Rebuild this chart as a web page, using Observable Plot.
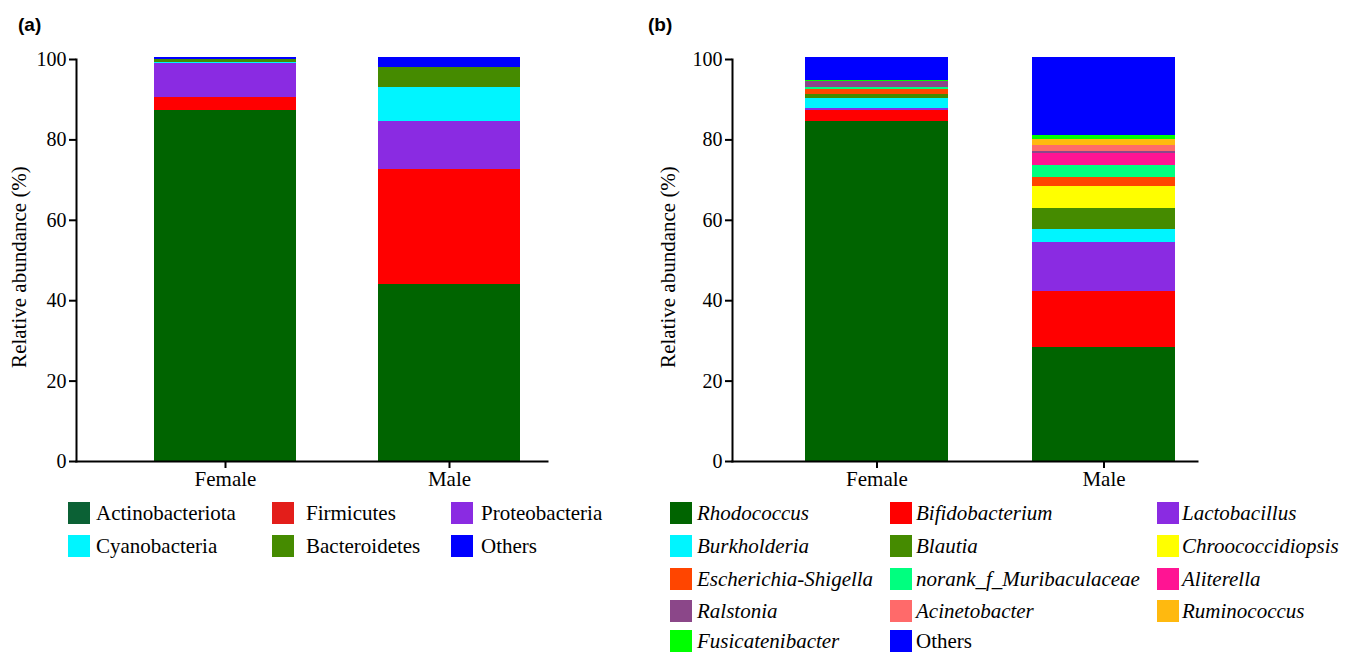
<!DOCTYPE html>
<html><head><meta charset="utf-8">
<script src="https://cdn.jsdelivr.net/npm/d3@7"></script>
<script src="https://cdn.jsdelivr.net/npm/@observablehq/plot@0.6"></script>
<style>
body{margin:0;background:#fff;}
#root{position:relative;width:1351px;height:654px;overflow:hidden;font-family:"Liberation Serif","Tinos","Times New Roman","Times",serif;color:#000;}
.plabel{position:absolute;font-family:"Liberation Sans",Arial,sans-serif;font-weight:bold;font-size:19px;line-height:1;}
.ytitle{position:absolute;font-size:21px;line-height:1;white-space:nowrap;transform:translate(-50%,-50%) rotate(-90deg);}
.sw{position:absolute;width:22px;height:22px;}
.lt{position:absolute;font-size:21px;white-space:nowrap;line-height:20px;}
.it{font-style:italic;}
</style></head><body><div id="root"></div>
<script>
// ---- data ----
const groups = ["Female", "Male"];
const yTicks = [0, 20, 40, 60, 80, 100];

const phyla = ["Actinobacteriota", "Firmicutes", "Proteobacteria", "Cyanobacteria", "Bacteroidetes", "Others"];
const phylaColors = ["#006400", "#FF0000", "#8A2BE2", "#00F5FF", "#458B00", "#0000FF"];
const phylaLegendColors = ["#0B6135", "#E31E1A", "#8A2BE2", "#00F5FF", "#458B00", "#0000FF"];
const phylaFemale = [87.4, 3.1, 8.6, 0.25, 0.75, 0.3];
const phylaMale = [44.1, 28.5, 11.9, 8.5, 5.0, 2.5];

const genera = ["Rhodococcus", "Bifidobacterium", "Lactobacillus", "Burkholderia", "Blautia",
  "Chroococcidiopsis", "Escherichia-Shigella", "norank_f_Muribaculaceae", "Aliterella",
  "Ralstonia", "Acinetobacter", "Ruminococcus", "Fusicatenibacter", "Others"];
const generaColors = ["#006400", "#FF0000", "#8A2BE2", "#00F5FF", "#458B00", "#FFFF00", "#FF4500",
  "#00FF7F", "#FF1493", "#8B4789", "#FF6A6A", "#FFB90F", "#00FF00", "#0000FF"];
const generaFemale = [84.7, 2.5, 0.5, 2.7, 1.0, 0, 1.2, 0.4, 0, 1.5, 0, 0, 0.4, 5.5];
const generaMale = [28.3, 14.0, 12.2, 3.3, 5.2, 5.5, 2.2, 3.0, 2.8, 0.7, 1.5, 1.5, 1.0, 19.2];

const FONT = "'Liberation Serif', Tinos, 'Times New Roman', Times, serif";
const root = document.getElementById("root");

function panel(cats, colors, female, male, o) {
  const data = [];
  groups.forEach((g, gi) => cats.forEach((c, i) =>
    data.push({group: g, taxon: c, value: (gi ? male : female)[i]})));
  const svg = Plot.plot({
    width: o.width, height: 495,
    marginLeft: o.ml, marginRight: o.width - o.axisEnd, marginTop: 59, marginBottom: 34,
    style: {fontFamily: FONT, fontSize: "20px", color: "#000", background: "transparent"},
    x: {domain: groups, paddingInner: o.pi, paddingOuter: o.po, align: o.align, label: null},
    y: {domain: [0, 100], label: null},
    color: {domain: cats, range: colors},
    marks: [
      Plot.barY(data, {x: "group", y: "value", fill: "taxon", shapeRendering: "crispEdges"}),
      Plot.frame({anchor: "left", strokeWidth: 2}),
      Plot.frame({anchor: "bottom", strokeWidth: 2}),
      Plot.axisY({ticks: yTicks, tickSize: 7, tickPadding: 3, strokeWidth: 2, label: null, fontSize: 20}),
      Plot.axisX({tickSize: 7, tickPadding: 3, strokeWidth: 2, label: null, fontSize: 21})
    ]
  });
  svg.style.position = "absolute";
  svg.style.left = o.left + "px";
  svg.style.top = "0px";
  root.appendChild(svg);
}

panel(phyla, phylaColors, phylaFemale, phylaMale,
  {left: 0, width: 650, ml: 76, axisEnd: 547, pi: 0.364, po: 0.2287, align: 0.748});
panel(genera, generaColors, generaFemale, generaMale,
  {left: 650, width: 701, ml: 82, axisEnd: 547, pi: 0.37, po: 0.209, align: 0.768});

function addDiv(cls, text, left, top) {
  const d = document.createElement("div");
  d.className = cls; d.textContent = text;
  d.style.left = left + "px"; d.style.top = top + "px";
  root.appendChild(d);
  return d;
}
addDiv("plabel", "(a)", 18, 15);
addDiv("plabel", "(b)", 648, 15);
addDiv("ytitle", "Relative abundance (%)", 19, 267);
addDiv("ytitle", "Relative abundance (%)", 668, 267);

function legend(cats, colors, swX, txX, rowsY, italic) {
  cats.forEach((c, i) => {
    const col = i % 3, row = Math.floor(i / 3);
    const s = document.createElement("div");
    s.className = "sw"; s.style.background = colors[i];
    s.style.left = swX[col] + "px"; s.style.top = rowsY[row] + "px";
    root.appendChild(s);
    addDiv("lt" + (italic && c !== "Others" ? " it" : ""), c, txX[col], rowsY[row] + 1);
  });
}
legend(phyla, phylaLegendColors, [68, 272, 451], [96, 306, 481], [502, 535], false);
legend(genera, generaColors, [670, 890, 1157], [697, 916, 1182], [502, 535, 568, 600, 630], true);
</script></body></html>
